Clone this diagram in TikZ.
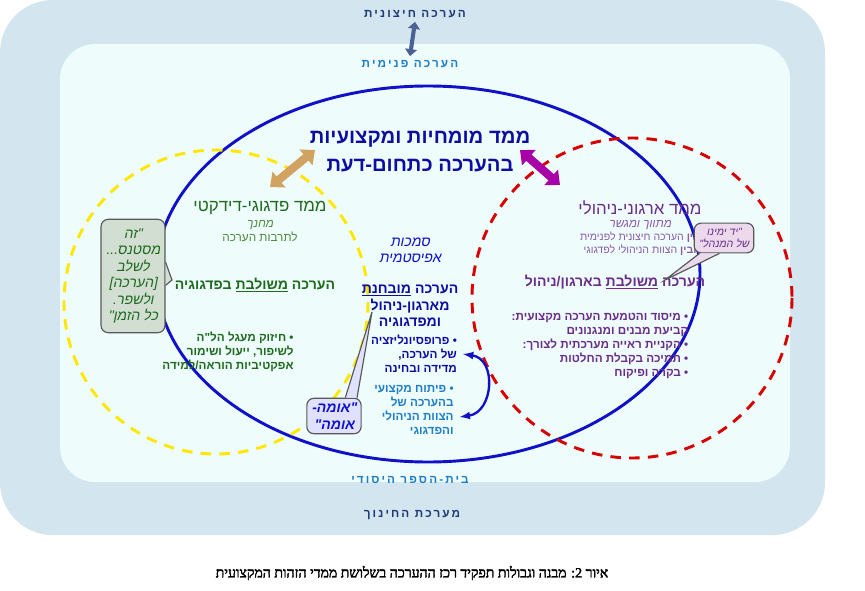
\documentclass[tikz,border=0pt]{standalone}
\usepackage{fontspec}
\usetikzlibrary{arrows.meta, positioning, calc}
\TeXXeTstate=1
\newfontfamily\heb[Script=Hebrew]{Liberation Sans}
\newfontfamily\hebserif[Script=Hebrew,FakeBold=2.5]{Liberation Serif}
\newfontfamily\hebsl[Script=Hebrew,FakeSlant=0.2]{Liberation Sans}
\newfontfamily\hebsp[Script=Hebrew,LetterSpace=18]{Liberation Sans}
\newcommand{\RL}[1]{\beginR #1\endR}
\definecolor{outerbg}{HTML}{D3E5EE}
\definecolor{innerbg}{HTML}{EEFCFC}
\definecolor{navy}{HTML}{1F3A78}
\definecolor{royal}{HTML}{1010C8}
\definecolor{dgreen}{HTML}{1E6B1E}
\definecolor{lgreen}{HTML}{4E8A3E}
\definecolor{plum}{HTML}{6A2E8A}
\definecolor{lplum}{HTML}{8A5AA8}
\definecolor{sky}{HTML}{1E7FC8}
\tikzset{
  txt/.style={font=\heb, align=center, inner sep=1pt},
  lbl/.style={font=\hebsp\bfseries, text=navy},
  callout/.style={draw=gray!70!black, rounded corners=6pt, line width=1pt,
      align=center, font=\hebsl, inner sep=4pt},
  dimarrow/.style={line width=7pt, {Triangle[width=17pt,length=10pt]}-{Triangle[width=17pt,length=10pt]}}
}
\begin{document}
\begin{tikzpicture}[x=0.03cm,y=-0.03cm]
  \useasboundingbox (0,0) rectangle (865,591);
  % backgrounds
  \fill[outerbg, rounded corners=45pt] (0,0) rectangle (825,535);
  \fill[innerbg, rounded corners=30pt] (60,44) rectangle (790,482);
  \node[lbl] (ext) at (415,14) {\RL{הערכה חיצונית}};
  \node[lbl, text=sky] (int) at (410,64) {\RL{הערכה פנימית}};
  \draw[line width=3.5pt, navy!80, {Triangle[width=10pt,length=6pt]}-{Triangle[width=10pt,length=6pt]}] (ext.south) -- (int.north);
  \node[lbl, text=sky] (school) at (410,480) {\RL{בית-הספר היסודי}};
  \node[lbl] (system) at (412,515) {\RL{מערכת החינוך}};
  \node[font=\hebserif\large] (caption) at (412,573) {\RL{איור 2: מבנה וגבולות תפקיד רכז ההערכה בשלושת ממדי הזהות המקצועית}};
  % the three dimensions
  \draw[royal, line width=2.5pt] (428,274) ellipse (272 and 188);
  \draw[yellow!90!orange, line width=2.5pt, dash pattern=on 9pt off 7pt] (216,302) circle (152);
  \draw[red!85!black, line width=2.5pt, dash pattern=on 9pt off 7pt] (632,298) circle (160);
  \node[font=\heb\LARGE\bfseries, text=royal!80!black, align=center] (title) at (420,152)
    {\RL{ממד מומחיות ומקצועיות}\\[2pt] \RL{בהערכה כתחום-דעת}};
  \coordinate (la) at (270,187);
  \coordinate (lb) at (315,150);
  \draw[dimarrow, violet!45!yellow!80!white] (la) -- (lb);
  \coordinate (ra) at (520,150);
  \coordinate (rb) at (560,185);
  \draw[dimarrow, violet!70!magenta] (ra) -- (rb);
  % pedagogic
  \node[txt, font=\heb\Large, text=dgreen] (ped) at (260,208) {\RL{ממד פדגוגי-דידקטי}};
  \node[txt, font=\hebsl, text=lgreen, below=2pt of ped] (pedA) {\RL{מחנך}};
  \node[txt, text=lgreen, below=0pt of pedA] (pedB) {\RL{לתרבות הערכה}};
  \node[txt, font=\heb\large\bfseries, text=dgreen] (pedC) at (255,285) {\RL{הערכה \underline{משולבת} בפדגוגיה}};
  \node[txt, font=\heb\bfseries, text=dgreen, align=right] (pedD) at (228,352)
    {\RL{• חיזוק מעגל הל"ה}\\ \RL{לשיפור, ייעול ושימור}\\ \RL{אפקטיביות הוראה/למידה}};
  % organisational
  \node[txt, font=\heb\Large, text=plum] (org) at (640,208) {\RL{ממד ארגוני-ניהולי}};
  \node[txt, font=\hebsl, text=lplum, below=2pt of org] (orgA) {\RL{מתווך ומגשר}};
  \node[txt, font=\heb\small, text=lplum, below=0pt of orgA] (orgB)
    {\RL{\textbf{בין} הערכה חיצונית לפנימית}\\ \RL{\textbf{ובין} הצוות הניהולי לפדגוגי}};
  \node[txt, font=\heb\large\bfseries, text=plum] (orgC) at (615,282) {\RL{הערכה \underline{משולבת} בארגון/ניהול}};
  \node[txt, font=\heb\bfseries, text=plum, align=right] (orgD) at (600,346)
    {\RL{• מיסוד והטמעת הערכה מקצועית:}\\ \RL{קביעת מבנים ומנגנונים}\\ \RL{• הקניית ראייה מערכתית לצורך:}\\
     \RL{• תמיכה בקבלת החלטות}\\ \RL{• בקרה ופיקוח}};
  % epistemic
  \node[txt, font=\hebsl\large, text=royal] (epi) at (410,250) {\RL{סמכות}\\ \RL{אפיסטמית}};
  \node[txt, font=\heb\large\bfseries, text=royal!80!black] (epiA) at (410,306)
    {\RL{הערכה \underline{מובחנת}}\\ \RL{מארגון-ניהול}\\ \RL{ומפדגוגיה}};
  \node[txt, font=\heb\bfseries, text=royal!80!black, align=right] (epiB) at (414,354)
    {\RL{• פרופסיונליזציה}\\ \RL{של הערכה,}\\ \RL{מדידה ובחינה}};
  \node[txt, font=\heb\bfseries, text=sky, align=right] (epiC) at (414,410)
    {\RL{• פיתוח מקצועי}\\ \RL{בהערכה של}\\ \RL{הצוות הניהולי}\\ \RL{והפדגוגי}};
  \draw[<->, >=latex, royal, line width=2pt] ([xshift=4]epiB.east) .. controls +(34,5) and +(34,-5) .. ([xshift=4,yshift=-6]epiC.east);
  % callouts
  \node[callout, fill=green!15!gray!30, text=dgreen, font=\hebsl\large, minimum height=3.4cm, minimum width=1.7cm] (cl) at (133,276)
    {\RL{"זה}\\ \RL{מסטנס...}\\ \RL{לשלב}\\ \RL{[הערכה]}\\ \RL{ולשפר.}\\ \RL{כל הזמן"}};
  \fill[green!15!gray!30, draw=gray!70!black, line width=1pt] ([yshift=12]cl.east) -- (172,280) -- ([yshift=-8]cl.east);
  \node[callout, fill=violet!15, text=plum, font=\hebsl\small] (cr) at (724,238) {\RL{"יד ימינו}\\ \RL{של המנהל"}};
  \fill[violet!15, draw=gray!70!black, line width=1pt] ([xshift=5]cr.south west) -- (665,280) -- ([xshift=22]cr.south west);
  \node[callout, fill=blue!12, text=royal, font=\hebsl\large\bfseries] (cb) at (334,416) {\RL{"אומה-}\\ \RL{אומה"}};
  \fill[blue!12, draw=gray!70!black, line width=1pt] ([xshift=-14]cb.north east) -- (372,312) -- ([xshift=-4]cb.north east);
\end{tikzpicture}
\end{document}
